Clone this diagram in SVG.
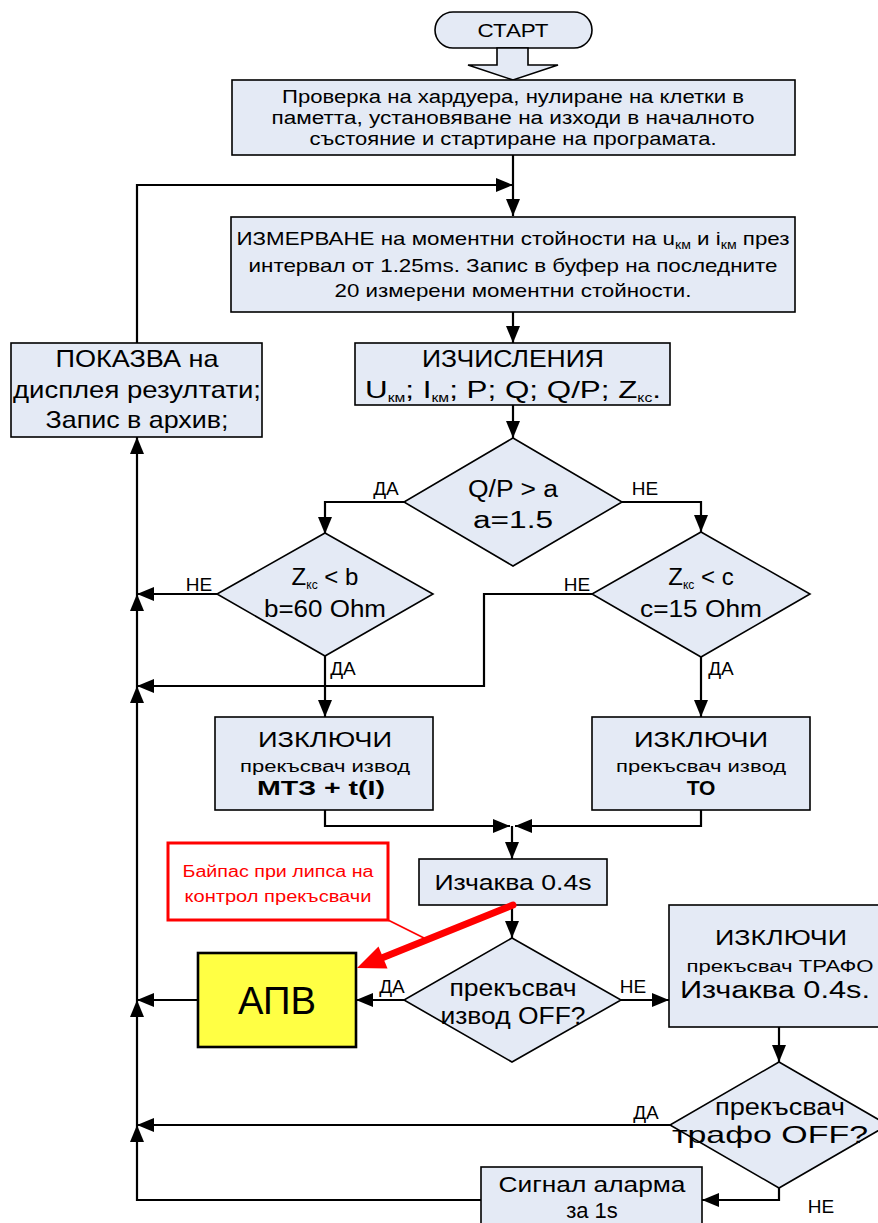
<svg xmlns="http://www.w3.org/2000/svg" width="878" height="1223" viewBox="0 0 878 1223">
<style>
.box{fill:#E4EAF5;stroke:#000;stroke-width:1.6}
.t{font-family:"Liberation Sans",Arial,sans-serif;fill:#000;text-anchor:middle}
.c{fill:none;stroke:#000;stroke-width:2.2}
.lbl{font-family:"Liberation Sans",Arial,sans-serif;font-size:19px;fill:#000;text-anchor:middle}
.sub{font-size:12px}
.red{fill:#FF0000}
</style>
<defs>
<marker id="ah" markerUnits="userSpaceOnUse" markerWidth="18" markerHeight="14" refX="17" refY="7" orient="auto">
<path d="M0,0 L17,7 L0,14 z" fill="#000"/>
</marker>
</defs>
<rect width="878" height="1223" fill="#fff"/>

<g id="connectors">
<path class="c" d="M513,155 V216" marker-end="url(#ah)"/>
<path class="c" d="M137,343 V185 H513" marker-end="url(#ah)"/>
<path class="c" d="M513,312 V343" marker-end="url(#ah)"/>
<path class="c" d="M513,405 V438" marker-end="url(#ah)"/>
<path class="c" d="M404,502 H325 V534" marker-end="url(#ah)"/>
<path class="c" d="M622,502 H701 V532" marker-end="url(#ah)"/>
<path class="c" d="M217,594 H137" marker-end="url(#ah)"/>
<path class="c" d="M325,656 V717" marker-end="url(#ah)"/>
<path class="c" d="M592,594 H484 V686 H137" marker-end="url(#ah)"/>
<path class="c" d="M701,656 V717" marker-end="url(#ah)"/>
<path class="c" d="M325,810 V826 H510" marker-end="url(#ah)"/>
<path class="c" d="M701,810 V826 H515" marker-end="url(#ah)"/>
<path class="c" d="M512,826 V859" marker-end="url(#ah)"/>
<path class="c" d="M512,905 V938" marker-end="url(#ah)"/>
<path class="c" d="M404,1000 H356" marker-end="url(#ah)"/>
<path class="c" d="M198,1000 H137" marker-end="url(#ah)"/>
<path class="c" d="M621,1000 H669" marker-end="url(#ah)"/>
<path class="c" d="M779,1027 V1062" marker-end="url(#ah)"/>
<path class="c" d="M670,1125 H137" marker-end="url(#ah)"/>
<path class="c" d="M779,1188 V1200 H702" marker-end="url(#ah)"/>
<path class="c" d="M481,1200 H137 V1125" marker-end="url(#ah)"/>
<path class="c" d="M137,1125 V1000" marker-end="url(#ah)"/>
<path class="c" d="M137,1000 V686" marker-end="url(#ah)"/>
<path class="c" d="M137,686 V594" marker-end="url(#ah)"/>
<path class="c" d="M137,594 V437" marker-end="url(#ah)"/>
<text class="lbl" x="386" y="495">ДА</text>
<text class="lbl" x="645" y="495">НЕ</text>
<text class="lbl" x="199" y="591">НЕ</text>
<text class="lbl" x="343" y="675">ДА</text>
<text class="lbl" x="577" y="591">НЕ</text>
<text class="lbl" x="721" y="675">ДА</text>
<text class="lbl" x="392" y="993">ДА</text>
<text class="lbl" x="633" y="993">НЕ</text>
<text class="lbl" x="646" y="1119">ДА</text>
<text class="lbl" x="821" y="1213">НЕ</text>
</g>

<g id="start">
<rect class="box" x="435" y="12" width="157" height="36" rx="18"/>
<text class="t" x="513" y="37" font-size="19" textLength="71" lengthAdjust="spacingAndGlyphs">СТАРТ</text>
<polygon class="box" points="497,48 528,48 528,65 558,65 513,80 468,65 497,65"/>
</g>

<g id="init">
<rect class="box" x="232" y="80" width="563" height="75"/>
<text class="t" font-size="18" x="513" y="103" textLength="462" lengthAdjust="spacingAndGlyphs">Проверка на хардуера, нулиране на клетки в</text>
<text class="t" font-size="18" x="513" y="124" textLength="483" lengthAdjust="spacingAndGlyphs">паметта, установяване на изходи в началното</text>
<text class="t" font-size="18" x="513" y="145" textLength="407" lengthAdjust="spacingAndGlyphs">състояние и стартиране на програмата.</text>
</g>

<g id="measure">
<rect class="box" x="231" y="217" width="564" height="95"/>
<text class="t" font-size="19" x="513" y="245" textLength="553" lengthAdjust="spacingAndGlyphs">ИЗМЕРВАНЕ на моментни стойности на u<tspan class="sub" dy="4">км</tspan><tspan dy="-4"> и i</tspan><tspan class="sub" dy="4">км</tspan><tspan dy="-4"> през</tspan></text>
<text class="t" font-size="19" x="513" y="272" textLength="529" lengthAdjust="spacingAndGlyphs">интервал от 1.25ms. Запис в буфер на последните</text>
<text class="t" font-size="19" x="513" y="297" textLength="357" lengthAdjust="spacingAndGlyphs">20 измерени моментни стойности.</text>
</g>

<g id="calc">
<rect class="box" x="355" y="343" width="315" height="62"/>
<text class="t" font-size="24" x="513" y="367" textLength="182" lengthAdjust="spacingAndGlyphs">ИЗЧИСЛЕНИЯ</text>
<text class="t" font-size="24" x="513" y="398" textLength="296" lengthAdjust="spacingAndGlyphs">U<tspan class="sub" dy="4">км</tspan><tspan dy="-4">; I</tspan><tspan class="sub" dy="4">км</tspan><tspan dy="-4">; P; Q; Q/P; Z</tspan><tspan class="sub" dy="4">кс</tspan><tspan dy="-4">.</tspan></text>
</g>

<g id="display">
<rect class="box" x="11" y="343" width="251" height="94"/>
<text class="t" font-size="24" x="137" y="367" textLength="163" lengthAdjust="spacingAndGlyphs">ПОКАЗВА на</text>
<text class="t" font-size="24" x="137" y="398" textLength="248" lengthAdjust="spacingAndGlyphs">дисплея резултати;</text>
<text class="t" font-size="24" x="137" y="428" textLength="183" lengthAdjust="spacingAndGlyphs">Запис в архив;</text>
</g>

<g id="d1">
<polygon class="box" points="513,438 622,502 513,566 404,502"/>
<text class="t" font-size="23" x="513" y="497" textLength="90" lengthAdjust="spacingAndGlyphs">Q/P &gt; a</text>
<text class="t" font-size="23" x="513" y="528" textLength="80" lengthAdjust="spacingAndGlyphs">a=1.5</text>
</g>

<g id="d2">
<polygon class="box" points="325,533 433,594 325,656 217,594"/>
<text class="t" font-size="24" x="325" y="585">Z<tspan class="sub" dy="4">кс</tspan><tspan dy="-4"> &lt; b</tspan></text>
<text class="t" font-size="23" x="325" y="617" textLength="122" lengthAdjust="spacingAndGlyphs">b=60 Ohm</text>
</g>

<g id="d3">
<polygon class="box" points="701,532 810,594 701,657 592,594"/>
<text class="t" font-size="24" x="701" y="585">Z<tspan class="sub" dy="4">кс</tspan><tspan dy="-4"> &lt; c</tspan></text>
<text class="t" font-size="23" x="701" y="617" textLength="122" lengthAdjust="spacingAndGlyphs">c=15 Ohm</text>
</g>

<g id="trip_mtz">
<rect class="box" x="215" y="717" width="218" height="93"/>
<text class="t" font-size="22" x="325" y="747" textLength="134" lengthAdjust="spacingAndGlyphs">ИЗКЛЮЧИ</text>
<text class="t" font-size="16" x="325" y="772" textLength="170" lengthAdjust="spacingAndGlyphs">прекъсвач извод</text>
<text class="t" font-size="21" font-weight="bold" x="321" y="795" textLength="128" lengthAdjust="spacingAndGlyphs">МТЗ + t(I)</text>
</g>

<g id="trip_to">
<rect class="box" x="592" y="717" width="218" height="93"/>
<text class="t" font-size="22" x="701" y="747" textLength="134" lengthAdjust="spacingAndGlyphs">ИЗКЛЮЧИ</text>
<text class="t" font-size="16" x="701" y="772" textLength="170" lengthAdjust="spacingAndGlyphs">прекъсвач извод</text>
<text class="t" font-size="21" font-weight="bold" x="701" y="795">ТО</text>
</g>

<g id="wait">
<rect class="box" x="419" y="859" width="188" height="46"/>
<text class="t" font-size="22" x="513" y="890" textLength="157" lengthAdjust="spacingAndGlyphs">Изчаква 0.4s</text>
</g>

<g id="d4">
<polygon class="box" points="512,938 621,1000 512,1062 404,1000"/>
<text class="t" font-size="23" x="513" y="996" textLength="127" lengthAdjust="spacingAndGlyphs">прекъсвач</text>
<text class="t" font-size="23" x="513" y="1024" textLength="145" lengthAdjust="spacingAndGlyphs">извод OFF?</text>
</g>

<g id="apv">
<rect x="198" y="953" width="158" height="94" fill="#FFFF44" stroke="#000" stroke-width="2.6"/>
<text class="t" font-size="38" x="277" y="1014" textLength="78" lengthAdjust="spacingAndGlyphs">АПВ</text>
</g>

<g id="trip_trafo">
<rect class="box" x="669" y="905" width="221" height="122"/>
<text class="t" font-size="22" x="781" y="945" textLength="132" lengthAdjust="spacingAndGlyphs">ИЗКЛЮЧИ</text>
<text class="t" font-size="16" x="780" y="972" textLength="187" lengthAdjust="spacingAndGlyphs">прекъсвач ТРАФО</text>
<text class="t" font-size="23" x="775" y="998" textLength="190" lengthAdjust="spacingAndGlyphs">Изчаква 0.4s.</text>
</g>

<g id="d5">
<polygon class="box" points="779,1062 888,1125 779,1188 670,1125"/>
<text class="t" font-size="23" x="780" y="1115" textLength="130" lengthAdjust="spacingAndGlyphs">прекъсвач</text>
<text class="t" font-size="24" x="770" y="1143" textLength="196" lengthAdjust="spacingAndGlyphs">трафо OFF?</text>
</g>

<g id="alarm">
<rect class="box" x="481" y="1167" width="221" height="70"/>
<text class="t" font-size="22" x="592" y="1192" textLength="187" lengthAdjust="spacingAndGlyphs">Сигнал аларма</text>
<text class="t" font-size="22" x="592" y="1218">за 1s</text>
</g>

<g id="callout">
<rect x="168" y="843" width="220" height="77" fill="#fff" stroke="#FF0000" stroke-width="3"/>
<text class="t red" font-size="16" x="278" y="877" style="fill:#FF0000" textLength="191" lengthAdjust="spacingAndGlyphs">Байпас при липса на</text>
<text class="t red" font-size="16" x="278" y="902" style="fill:#FF0000" textLength="187" lengthAdjust="spacingAndGlyphs">контрол прекъсвачи</text>
<line x1="388" y1="920" x2="428" y2="940" stroke="#FF0000" stroke-width="1.6"/>
<line x1="513" y1="905" x2="383" y2="957.5" stroke="#FF0000" stroke-width="7" stroke-linecap="round"/>
<polygon points="357,968 387.5,968.5 378.5,946.5" fill="#FF0000"/>
</g>
</svg>
